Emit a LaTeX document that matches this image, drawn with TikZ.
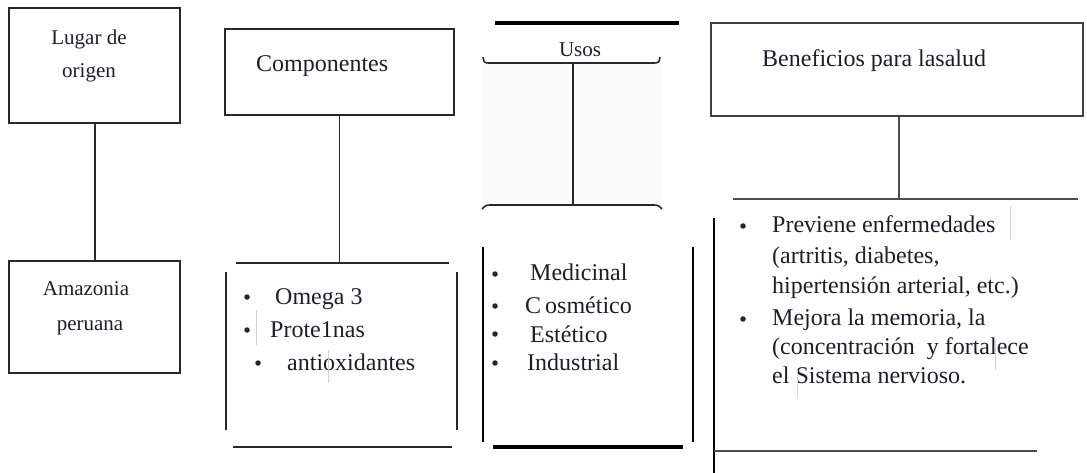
\documentclass[tikz,border=0pt]{standalone}
\usepackage{fontspec}
\setmainfont{Liberation Serif}
\definecolor{ink}{RGB}{30,30,40}
\definecolor{frame}{RGB}{40,40,40}
\begin{document}
\begin{tikzpicture}[x=1pt,y=-1pt,
  box/.style={draw=frame, line width=2pt, inner sep=0pt, anchor=north west},
  conn/.style={draw=frame, line width=1.6pt},
  rule/.style={draw=frame, line width=1.8pt},
  heavy/.style={draw=black, line width=4pt},
  faint/.style={draw=gray!35, line width=0.8pt},
  txt/.style={inner sep=0pt, anchor=base west, text=ink, font=\fontsize{24}{28}\selectfont},
  small/.style={inner sep=0pt, anchor=base, text=ink, font=\fontsize{21}{24}\selectfont},
  dot/.style={circle, fill=black!85, inner sep=0pt, minimum size=5.5pt}]
\useasboundingbox (0,0) rectangle (1087,473);

% ---------- column 1 ----------
\node[box, line width=2.3pt, minimum width=171pt, minimum height=115pt] (b1) at (8,7) {};
\node[box, line width=2.3pt, minimum width=171pt, minimum height=112pt] (b1b) at (8,260) {};
\node[small] (t1a) at (89,45) {Lugar de};
\node[small] (t1b) at (89,78) {origen};
\node[small] (t1c) at (86,295) {Amazonia};
\node[small] (t1d) at (90,330) {peruana};
\draw[conn, line width=2pt] (b1.south) -- (b1b.north);

% ---------- column 2 ----------
\node[box, minimum width=229pt, minimum height=86pt] (b2) at (224,28) {};
\node[txt] (t2) at (256,72) {Componentes};
\coordinate (h2l) at (236,263);
\coordinate (h2r) at (449,263);
\draw[rule] (h2l) -- (h2r);
\draw[conn] (b2.south) -- (b2.south |- h2l);
\coordinate (v2a) at (226,272); \coordinate (v2b) at (226,430);
\coordinate (v2c) at (457,272); \coordinate (v2d) at (457,430);
\draw[rule] (v2a) -- (v2b);
\draw[rule] (v2c) -- (v2d);
\coordinate (h2bl) at (233,447); \coordinate (h2br) at (452,447);
\draw[rule] (h2bl) -- (h2br);
\node[dot] (d21) at (247,297) {};
\node[dot] (d22) at (247,330) {};
\node[dot] (d23) at (258,363) {};
\node[txt] (l21) at (275,304) {Omega 3};
\node[txt] (l22) at (270,337) {Prote1nas};
\node[txt] (l23) at (287,370) {antioxidantes};
\draw[faint] (256,310) -- (256,345);
\draw[faint] (328,350) -- (328,383);

% ---------- column 3 ----------
\fill[gray!3] (483,64) rectangle (662,205);
\coordinate (h3tl) at (495,23); \coordinate (h3tr) at (679,23);
\draw[heavy] (h3tl) -- (h3tr);
\node[small] (t3) at (580,57) {Usos};
\coordinate (br1a) at (483,57); \coordinate (br1b) at (660,57);
\draw[conn] (br1a) .. controls (484,63) .. (491,63) -- (652,63) .. controls (659,63) .. (br1b);
\coordinate (br2a) at (482,209); \coordinate (br2b) at (662,209);
\draw[conn] (br2a) .. controls (486,205) .. (493,205) -- (651,205) .. controls (658,205) .. (br2b);
\coordinate (s3a) at (573,63); \coordinate (s3b) at (573,205);
\draw[conn] (s3a) -- (s3b);
\coordinate (v3a) at (483,247); \coordinate (v3b) at (483,442);
\coordinate (v3c) at (693,247); \coordinate (v3d) at (693,442);
\draw[rule, draw=black, line width=2.2pt] (v3a) -- (v3b);
\draw[rule, draw=black, line width=2.2pt] (v3c) -- (v3d);
\coordinate (h3bl) at (493,447); \coordinate (h3br) at (683,447);
\draw[heavy] (h3bl) -- (h3br);
\node[dot] (d31) at (495,274) {};
\node[dot] (d32) at (495,306) {};
\node[dot] (d33) at (495,334) {};
\node[dot] (d34) at (495,363) {};
\node[txt] (l31) at (530,280) {Medicinal};
\node[txt] (l32) at (525,313) {C\,osmético};
\node[txt] (l33) at (530,342) {Estético};
\node[txt] (l34) at (527,370) {Industrial};

% ---------- column 4 ----------
\node[box, line width=1.8pt, draw=black!75, minimum width=372pt, minimum height=93pt] (b4) at (710,22) {};
\node[txt] (t4) at (762,67) {Beneficios para lasalud};
\coordinate (h4l) at (733,199); \coordinate (h4r) at (1078,199);
\draw[rule, draw=black!70] (h4l) -- (h4r);
\draw[conn, draw=black!70] (b4.south -| 899,0) -- (h4l -| 899,0);
\coordinate (v4a) at (714,218); \coordinate (v4b) at (714,473);
\draw[rule, draw=black, line width=2.4pt] (v4a) -- (v4b);
\coordinate (h4bl) at (714,451); \coordinate (h4br) at (1037,451);
\draw[rule, draw=black!70] (h4bl) -- (h4br);
\node[dot] (d41) at (743,226) {};
\node[dot] (d42) at (743,319) {};
\node[txt] (l41) at (772,233) {Previene enfermedades};
\node[txt] (l42) at (772,263) {(artritis, diabetes,};
\node[txt] (l43) at (772,293) {hipertensión arterial, etc.)};
\node[txt] (l44) at (772,325) {Mejora la memoria, la};
\node[txt] (l45) at (772,354) {(concentración \ y fortalece};
\node[txt] (l46) at (772,383) {el Sistema nervioso.};
\draw[faint] (1010,207) -- (1010,240);
\draw[faint] (995,340) -- (995,370);
\draw[faint] (797,370) -- (797,398);
\end{tikzpicture}
\end{document}
